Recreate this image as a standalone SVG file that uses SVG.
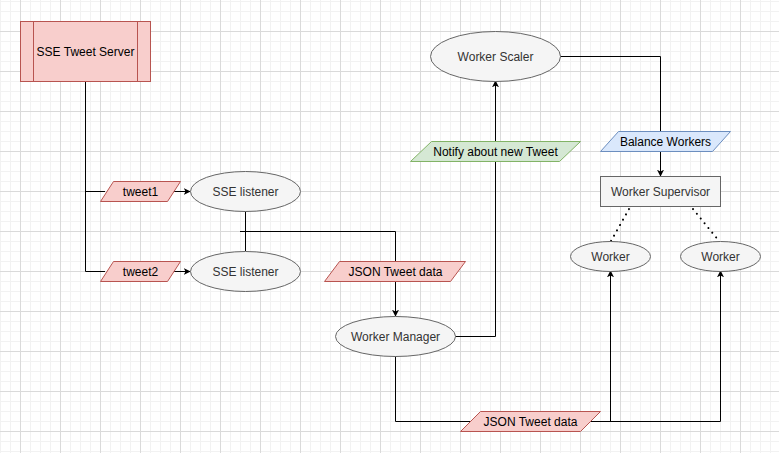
<svg xmlns="http://www.w3.org/2000/svg" width="779" height="453" viewBox="0 0 779 453">
<defs>
<pattern id="grid" x="20" y="31" width="40" height="40" patternUnits="userSpaceOnUse">
<rect x="0" y="0" width="40" height="40" fill="#ffffff"/>
<rect x="10" y="0" width="1" height="40" fill="#f2f2f2"/>
<rect x="20" y="0" width="1" height="40" fill="#f2f2f2"/>
<rect x="30" y="0" width="1" height="40" fill="#f2f2f2"/>
<rect x="0" y="10" width="40" height="1" fill="#f2f2f2"/>
<rect x="0" y="20" width="40" height="1" fill="#f2f2f2"/>
<rect x="0" y="30" width="40" height="1" fill="#f2f2f2"/>
<rect x="0" y="0" width="1" height="40" fill="#dadada"/>
<rect x="0" y="0" width="40" height="1" fill="#dadada"/>
</pattern>
<marker id="arr" viewBox="0 0 10 10" refX="9" refY="5" markerWidth="7" markerHeight="7" markerUnits="userSpaceOnUse" orient="auto">
<path d="M0,0 L10,5 L0,10 L2.5,5 Z" fill="#000"/>
</marker>
<style>
.edge{fill:none;stroke:#000;stroke-width:1}
.dot{fill:none;stroke:#000;stroke-width:2;stroke-dasharray:0.1 6;stroke-linecap:round}
.red{fill:#f8cecc;stroke:#b85450;stroke-width:1}
.grey{fill:#f5f5f5;stroke:#666666;stroke-width:1}
.green{fill:#d5e8d4;stroke:#82b366;stroke-width:1}
.blue{fill:#dae8fc;stroke:#6c8ebf;stroke-width:1}
text{font-family:"Liberation Sans",Arial,Helvetica,sans-serif;font-size:12px;text-anchor:middle;dominant-baseline:central}
.t1{fill:#000}
.t2{fill:#333333}
</style>
</defs>
<rect x="0" y="0" width="779" height="453" fill="url(#grid)"/>
<g id="connectors">
<path class="edge" d="M85.5,81 L85.5,271.5 L105,271.5"/>
<path class="edge" d="M85.5,191.5 L105,191.5"/>
<path class="edge" d="M172,191.5 L190,191.5" marker-end="url(#arr)"/>
<path class="edge" d="M172,271.5 L190,271.5" marker-end="url(#arr)"/>
<path class="edge" d="M245.5,211 L245.5,251"/>
<path class="edge" d="M240,231.5 L395.5,231.5 L395.5,316" marker-end="url(#arr)"/>
<path class="edge" d="M455,336.5 L495.5,336.5 L495.5,81" marker-end="url(#arr)"/>
<path class="edge" d="M560,56.5 L660.5,56.5 L660.5,176" marker-end="url(#arr)"/>
<path class="edge" d="M395.5,356 L395.5,421.5 L720.5,421.5 L720.5,271" marker-end="url(#arr)"/>
<path class="edge" d="M610.5,421.5 L610.5,271" marker-end="url(#arr)"/>
<path class="dot" d="M629,209 L611,241"/>
<path class="dot" d="M693,209 L719,241"/>
</g>
<g id="sse-tweet-server">
<rect class="red" x="20.5" y="21.5" width="130" height="60"/>
<line class="red" x1="33.5" y1="21.5" x2="33.5" y2="81.5"/>
<line class="red" x1="137.5" y1="21.5" x2="137.5" y2="81.5"/>
<text class="t1" x="85.5" y="51.5">SSE Tweet Server</text>
</g>
<g id="tweet1">
<polygon class="red" points="113.5,181.5 180.5,181.5 167.5,201.5 100.5,201.5"/>
<text class="t1" x="140.5" y="191.5">tweet1</text>
</g>
<g id="tweet2">
<polygon class="red" points="113.5,261.5 180.5,261.5 167.5,281.5 100.5,281.5"/>
<text class="t1" x="140.5" y="271.5">tweet2</text>
</g>
<g id="sse-listener-1">
<ellipse class="grey" cx="245.5" cy="191.5" rx="55" ry="20"/>
<text class="t2" x="245.5" y="191.5">SSE listener</text>
</g>
<g id="sse-listener-2">
<ellipse class="grey" cx="245.5" cy="271.5" rx="55" ry="20"/>
<text class="t2" x="245.5" y="271.5">SSE listener</text>
</g>
<g id="json-tweet-data-1">
<polygon class="red" points="339.5,261.5 465.5,261.5 450.5,281.5 324.5,281.5"/>
<text class="t1" x="395.5" y="271.5">JSON Tweet data</text>
</g>
<g id="worker-manager">
<ellipse class="grey" cx="395.5" cy="336.5" rx="60" ry="20"/>
<text class="t2" x="395.5" y="336.5">Worker Manager</text>
</g>
<g id="notify">
<polygon class="green" points="431.5,141.5 580.5,141.5 559.5,161.5 410.5,161.5"/>
<text class="t1" x="495.5" y="151.5">Notify about new Tweet</text>
</g>
<g id="worker-scaler">
<ellipse class="grey" cx="495.5" cy="56.5" rx="65" ry="25"/>
<text class="t2" x="495.5" y="56.5">Worker Scaler</text>
</g>
<g id="balance-workers">
<polygon class="blue" points="618.5,131.5 730.5,131.5 712.5,151.5 600.5,151.5"/>
<text class="t1" x="665.5" y="141.5">Balance Workers</text>
</g>
<g id="worker-supervisor">
<rect class="grey" x="600.5" y="176.5" width="120" height="30"/>
<text class="t2" x="660.5" y="191.5">Worker Supervisor</text>
</g>
<g id="worker-1">
<ellipse class="grey" cx="610.5" cy="256.5" rx="40" ry="15"/>
<text class="t2" x="610.5" y="256.5">Worker</text>
</g>
<g id="worker-2">
<ellipse class="grey" cx="720.5" cy="256.5" rx="40" ry="15"/>
<text class="t2" x="720.5" y="256.5">Worker</text>
</g>
<g id="json-tweet-data-2">
<polygon class="red" points="480.5,411.5 600.5,411.5 580.5,431.5 460.5,431.5"/>
<text class="t1" x="530.5" y="421.5">JSON Tweet data</text>
</g>
</svg>
